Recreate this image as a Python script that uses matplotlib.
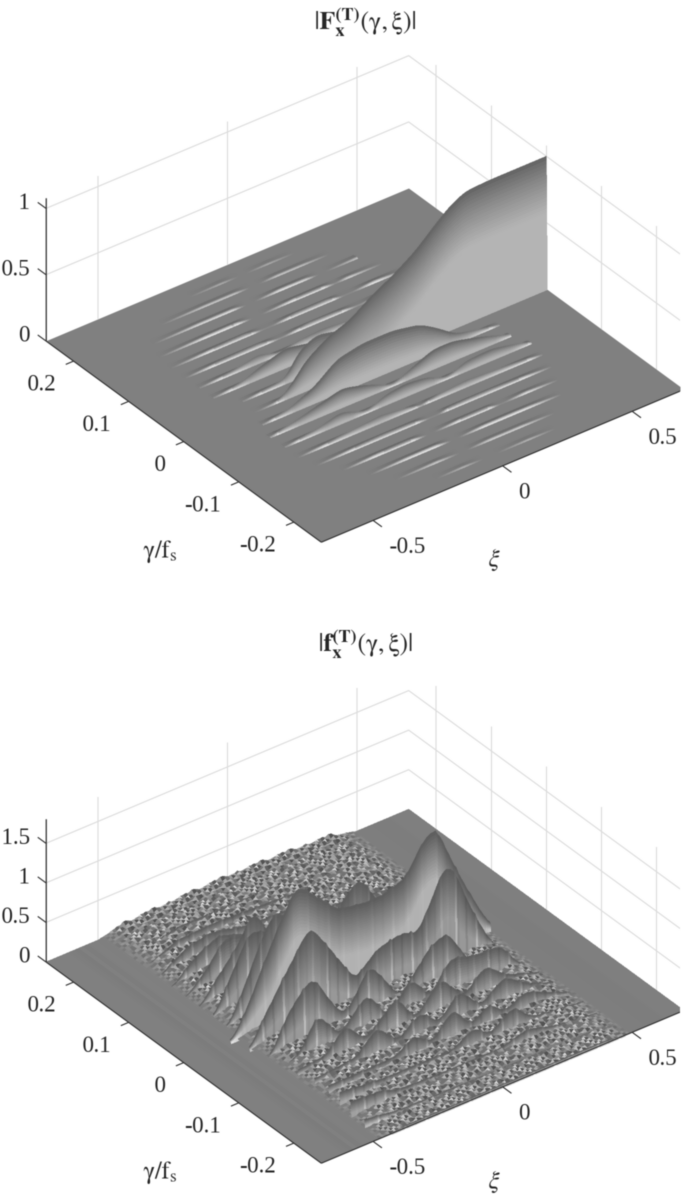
import numpy as np
import matplotlib
matplotlib.use("Agg")
import matplotlib.pyplot as plt
from mpl_toolkits.mplot3d import proj3d

plt.rcParams['font.family'] = ['Liberation Serif', 'DejaVu Serif']
plt.rcParams['mathtext.fontset'] = 'stix'

xi_lim = (-0.7, 0.7)
gamma_lim = (-0.25, 0.25)
xi_ticks = [-0.5, 0, 0.5]
xi_labels = ['-0.5', '0', '0.5']
gamma_ticks = [-0.2, -0.1, 0, 0.1, 0.2]
gamma_labels = ['-0.2', '-0.1', '0', '0.1', '0.2']
row_step = 0.025

# top surface, one xi/height pair per gamma row, row number = gamma / row_step
f_z_top = 1.08
f_z_ticks = [0, 0.5, 1]
f_z_labels = ['0', '0.5', '1']
f_p9_xi = [-.2, -.08, -.02, .02, .1, .2]
f_p9_h = [0, .005, 0, 0, .005, 0]
f_p8_xi = [-.36, -.2, -.08, -.03, .02, .08, .18, .28]
f_p8_h = [0, .008, .008, 0, 0, .008, .007, 0]
f_p7_xi = [-.44, -.28, -.14, -.1, -.05, .04, .14, .18, .22, .34]
f_p7_h = [0, .01, .011, 0, 0, .012, .01, 0, 0, .008]
f_p6_xi = [-.47, -.3, -.18, -.13, -.08, .05, .15, .2, .25, .38]
f_p6_h = [0, .012, .014, 0, 0, .014, .014, 0, .01, 0]
f_p5_xi = [-.48, -.32, -.2, -.14, -.09, 0, .12, .17, .22, .3, .42]
f_p5_h = [0, .014, .02, .001, .001, .018, .02, .001, .001, .014, 0]
f_p4_xi = [-.48, -.35, -.2, -.13, -.1, 0, .1, .17, .2, .3, .42, .47]
f_p4_h = [0, .016, .022, .002, .002, .022, .018, .002, .002, .016, .01, 0]
f_p3_xi = [-.48, -.35, -.25, -.169, -.1, 0, .1, .2, .3, .42, .47]
f_p3_h = [0, .02, .06, .004, .04, .05, .03, .02, .02, .012, 0]
f_p2_xi = [-.48, -.38, -.3, -.2, -.1, 0, .15, .3, .45]
f_p2_h = [0, .02, .08, .14, .1, .05, .02, .012, 0]
f_p1_xi = [-.42, -.256, -.198, -.132, -.044, .11, .3]
f_p1_h = [0, .03, .2, .26, .22, .12, 0]
f_0_xi = [-.483, -.414, -.329, -.278, -.228, -.143, -.058, .023, .108, .193, .278, .329, .387, .479, .7]
f_0_h = [0, .0, .01, .10, .22, .33, .39, .50, .59, .70, .85, .93, .99, 1.0, 1.0]
f_m1_xi = [-.45, -.351, -.247, -.162, -.061, .055, .159, .225, .295, .396, .462]
f_m1_h = [0, .03, .12, .25, .29, .29, .25, .17, .07, .025, 0]
f_m2_xi = [-.474, -.358, -.262, -.192, -.107, -.03, -.002, .028, .156, .234, .35, .454]
f_m2_h = [0, .05, .10, .135, .09, .03, .003, .03, .14, .14, .08, .01]
f_m3_xi = [-.47, -.35, -.25, -.152, -.08, 0, .08, .157, .23, .33, .45, .48]
f_m3_h = [0, .03, .08, .005, .07, .09, .07, .005, .07, .08, .03, 0]
f_m4_xi = [-.47, -.35, -.25, -.15, -.05, 0, .08, .18, .3, .42, .47]
f_m4_h = [0, .015, .035, .05, .025, .002, .03, .045, .03, .012, 0]
f_m5_xi = [-.45, -.3, -.2, -.08, -.03, .02, .06, .12, .22, .35, .45]
f_m5_h = [0, .014, .02, .016, .001, .001, .016, .02, .02, .012, 0]
f_m6_xi = [-.4, -.28, -.15, -.09, -.05, .05, .15, .19, .22, .3, .42]
f_m6_h = [0, .013, .016, 0, 0, .014, .016, .001, .001, .012, 0]
f_m7_xi = [-.35, -.22, -.1, -.05, -.01, .08, .2, .28, .38]
f_m7_h = [0, .011, .013, 0, 0, .012, .013, .01, 0]
f_m8_xi = [-.3, -.15, -.07, -.03, .05, .18, .3]
f_m8_h = [0, .009, 0, 0, .009, .009, 0]
f_m9_xi = [-.2, -.1, -.03, .03, .15, .25]
f_m9_h = [0, .006, 0, 0, .006, 0]

f_rows = [(9, f_p9_xi, f_p9_h), (8, f_p8_xi, f_p8_h), (7, f_p7_xi, f_p7_h), (6, f_p6_xi, f_p6_h),
          (5, f_p5_xi, f_p5_h), (4, f_p4_xi, f_p4_h), (3, f_p3_xi, f_p3_h), (2, f_p2_xi, f_p2_h),
          (1, f_p1_xi, f_p1_h), (0, f_0_xi, f_0_h), (-1, f_m1_xi, f_m1_h), (-2, f_m2_xi, f_m2_h),
          (-3, f_m3_xi, f_m3_h), (-4, f_m4_xi, f_m4_h), (-5, f_m5_xi, f_m5_h), (-6, f_m6_xi, f_m6_h),
          (-7, f_m7_xi, f_m7_h), (-8, f_m8_xi, f_m8_h), (-9, f_m9_xi, f_m9_h)]

# bottom surface, same layout
b_z_top = 1.81
b_z_ticks = [0, 0.5, 1, 1.5]
b_z_labels = ['0', '0.5', '1', '1.5']
b_p9_xi = [-.48, -.2, .45]
b_p9_h = [0, .12, .03]
b_p8_xi = [-.48, -.3, 0, .45]
b_p8_h = [0, .14, .14, .04]
b_p7_xi = [-.48, -.35, -.2, .1, .45]
b_p7_h = [0, .18, .2, .15, .04]
b_p6_xi = [-.48, -.38, -.28, -.15, .1, .45]
b_p6_h = [0, .22, .3, .2, .16, .05]
b_p5_xi = [-.48, -.4, -.3, -.2, 0, .2, .45]
b_p5_h = [0, .25, .42, .3, .2, .18, .05]
b_p4_xi = [-.48, -.4, -.33, -.25, -.15, 0, .2, .45]
b_p4_h = [0, .25, .55, .5, .22, .22, .18, .05]
b_p3_xi = [-.48, -.41, -.34, -.27, -.2, -.1, .02, .2, .45]
b_p3_h = [0, .3, .55, .95, .5, .25, .25, .2, .05]
b_p2_xi = [-.48, -.41, -.34, -.26, -.17, -.08, .02, .12, .25, .45]
b_p2_h = [0, .45, .9, .8, .4, .3, .3, .25, .2, .05]
b_p1_xi = [-.48, -.43, -.372, -.306, -.237, -.148, -.063, .034, .104, .169, .266, .45]
b_p1_h = [0, .3, .75, 1.2, 1.1, .5, .9, 1.2, .8, .25, .15, 0]
b_0_xi = [-.52, -.464, -.398, -.329, -.263, -.201, -.108, .008, .085, .162, .213, .271, .309, .329, .406, .483]
b_0_h = [0, .29, .77, 1.25, 1.63, 1.44, 1.12, 1.05, 1.07, 1.17, 1.48, 1.64, 1.35, 1.16, .6, .1]
b_m1_xi = [-.5, -.448, -.371, -.266, -.177, -.092, -.007, .094, .148, .198, .248, .283, .306, .36, .442]
b_m1_h = [0, .32, .72, 1.25, .8, .34, .6, .68, .58, .89, 1.27, 1.25, 1.06, .58, .03]
b_m2_xi = [-.474, -.397, -.308, -.215, -.176, -.087, .029, .145, .211, .288, .339, .45]
b_m2_h = [0, .5, .8, .25, .16, .65, .08, .55, .65, .2, .08, 0]
b_m3_xi = [-.48, -.412, -.342, -.257, -.149, -.075, .022, .091, .17, .273, .362, .438]
b_m3_h = [0, .1, .5, .12, .5, .1, .45, .12, .5, .4, .4, .05]
b_m4_xi = [-.47, -.36, -.29, -.21, -.09, -.02, .08, .17, .25, .33, .46]
b_m4_h = [.1, .14, .42, .12, .5, .12, .5, .15, .42, .2, .05]
b_m5_xi = [-.46, -.3, -.22, -.14, -.05, .02, .1, .18, .27, .36, .46]
b_m5_h = [.1, .15, .42, .14, .38, .15, .45, .14, .38, .18, .05]
b_m6_xi = [-.46, -.2, -.13, -.06, .02, .09, .16, .22, .3, .46]
b_m6_h = [.14, .15, .32, .14, .45, .15, .32, .14, .28, .05]
b_m7_xi = [-.47, -.3, -.1, -.04, .05, .11, .2, .27, .47]
b_m7_h = [.2, .14, .14, .12, .3, .13, .36, .13, .05]
b_m8_xi = [-.48, -.36, -.3, -.1, .1, .2, .3, .47]
b_m8_h = [.22, .2, .12, .1, .1, .2, .1, .03]
b_m9_xi = [-.48, -.42, -.36, .47]
b_m9_h = [.12, .1, .06, .02]
b_m10_xi = [-.43, -.38, .4, .47]
b_m10_h = [0, .03, .035, 0]

b_rows = [(9, b_p9_xi, b_p9_h), (8, b_p8_xi, b_p8_h), (7, b_p7_xi, b_p7_h), (6, b_p6_xi, b_p6_h),
          (5, b_p5_xi, b_p5_h), (4, b_p4_xi, b_p4_h), (3, b_p3_xi, b_p3_h), (2, b_p2_xi, b_p2_h),
          (1, b_p1_xi, b_p1_h), (0, b_0_xi, b_0_h), (-1, b_m1_xi, b_m1_h), (-2, b_m2_xi, b_m2_h),
          (-3, b_m3_xi, b_m3_h), (-4, b_m4_xi, b_m4_h), (-5, b_m5_xi, b_m5_h), (-6, b_m6_xi, b_m6_h),
          (-7, b_m7_xi, b_m7_h), (-8, b_m8_xi, b_m8_h), (-9, b_m9_xi, b_m9_h), (-10, b_m10_xi, b_m10_h)]

# raised rough plateau of the bottom surface
plateau_xi = [-.5, -.46, -.4, -.2, 0, .2, .4, .46, .5]
plateau_h = [0, .03, .08, .11, .13, .12, .09, .03, 0]
# one scale per band between rows, from the front edge to the back edge
plateau_scale = [.25, .6, .8, .9, 1, 1, 1, 1, 1, 1, 1, 1, 1, 1, 1, 1, 1, 1, 1, 1]
# floor shading left and right of the plateau
floor_xi = [-.7, -.64, -.61, -.59, -.575, -.56, -.54, -.5, .5, .56, .62, .7]
floor_grey = [128, 128, 126, 124, 129, 125, 128, 127, 126, 125, 127]

# hand typed grain, the picture's speckle cannot be read value by value
grain = ["718250936417265093842716", "295046173829501746380259", "961372804519367028415936",
         "482607319254806173952840", "157390482761593084261759", "830146297538041692758034",
         "694283170564293871056429", "016754298301765492830617", "375281640973582146093758",
         "924063718592046317589204", "581739260458173902648517", "260948531762049853172604",
         "793615402879136504287396", "148207956314820769531842", "536974120835697412805369",
         "807142653908714265390871", "319586027413958602473195", "672403819567423081956274",
         "054871392605841739206548", "481926570348916257043819", "926305784192630547819623",
         "150748926315704829361507", "763219048576321980457362", "398574106239857410623985",
         "604132987560413298756401", "275890431627589014362785", "849216305784921630578429",
         "012657498301265749830216", "567304821956703482195637", "938412057693481205769384",
         "241769530824176953082741"]
# light and dark streaks on the bottom walls
wall_stripes = [0, 0, 3, -2, 0, 0, 26, -8, 0, 0, 0, -14, 0, 2, 0, 0, 32, 0, -4, 0, 0, -10, 0, 18, 0, 0, 0, -6, 0, 0, 12]

step_xi = 0.008


def grey(c):
    c = np.clip(c, 0, 255) / 255.0
    return np.dstack([c, c, c, np.ones_like(c)])


def soften(y, n):
    # rounds the corners of the read polyline when it is tessellated for drawing
    kernel = np.ones(n) / n
    y2 = np.pad(y, n // 2, mode='edge')
    return np.convolve(y2, kernel, mode='valid')


def surf(ax, X, Y, Z, c, order):
    ax.plot_surface(X, Y, Z, facecolors=grey(c), shade=False, rstride=1, cstride=1,
                    linewidth=0, antialiased=False, zorder=order)


def wall(ax, row, xi, h, order, rough):
    gamma = row * row_step
    cols = np.union1d(np.arange(xi[0], xi[-1], step_xi), [xi[0], xi[-1]])
    top = np.interp(cols, xi, h)
    if max(h) > 0.05:
        top = soften(soften(top, 5), 5)
    else:
        top = soften(top, 3)
    if rough:
        top = top + np.take(wall_stripes, np.arange(len(cols)) % len(wall_stripes)) * 0.0008 * np.clip(top / .3, 0, 1)
    mid = 0.5 * (top[:-1] + top[1:])
    if not rough:
        # thin darker slope behind the crest
        X, Y = np.meshgrid(cols, [gamma + 0.006, gamma])
        Z = np.vstack([top * 0, top])
        c = 128 - 22 * np.clip(mid / 0.012, 0, 1)
        surf(ax, X, Y, Z, np.vstack([c, c]), order)
    n_front = 36 if max(h) > 0.6 else 14
    t = np.linspace(0, 1, n_front + 1)
    X, Y = np.meshgrid(cols, gamma - 0.002 * (1 - t))
    Z = np.outer(t, top)
    depth = np.outer(1 - 0.5 * (t[:-1] + t[1:]), mid)
    if rough:
        scale = np.minimum(0.6, 0.6 * mid) + 1e-6
        ratio = np.clip(depth / scale, 0, 1)
        light = 178 if row == 0 else 152
        light = light + 60 * np.clip(1 - mid / 0.25, 0, 1)
        c = 92 + (light - 92) * ratio
        idx = np.arange(len(mid)) % len(wall_stripes)
        amount = 0.2 if row == 0 else 1.0
        c = c + amount * np.take(wall_stripes, idx) * (0.4 + 0.8 * ratio)
    else:
        scale = np.minimum(0.42, 0.8 * mid) + 1e-6
        ratio = np.clip(depth / scale, 0, 1)
        dark = 128 - 30 * np.clip(mid / 0.1, 0, 1)
        light = 180 + 60 * np.clip(1 - mid / 0.05, 0, 1)
        light = 128 + (light - 128) * np.clip(mid / 0.012, 0, 1)
        c = dark + (light - dark) * ratio ** 0.8
    surf(ax, X, Y, Z, c, order + 0.1)


def plateau(ax, band, order):
    n = 6
    g0 = band - 10
    cols = np.arange(-0.49, 0.4901, 0.011)
    rows = (g0 + np.linspace(0, 1, n + 1)) * row_step
    tile = np.array([[int(d) for d in r] for r in grain], dtype=float)
    rr = (band * n + np.arange(n + 2))[:, None] % tile.shape[0]
    cc = (np.arange(len(cols) + 1)[None, :] + 5 * band) % tile.shape[1]
    g = tile[rr, cc]
    env = np.clip((np.minimum(cols + 0.49, 0.49 - cols)) / 0.08, 0, 1)
    level = np.interp(cols, plateau_xi, plateau_h) * plateau_scale[band]
    Z = level + (g[:-1, :-1] - 4.5) * 0.004 * env
    c = 128 + 12 * env[:-1] + (6 * (g[:-2, :-2] - g[1:-1, :-2]) + 5 * (g[:-2, :-2] - g[:-2, 1:-1])) * env[:-1]
    c = np.clip(c, 82, 228)
    X, Y = np.meshgrid(cols, rows)
    surf(ax, X, Y, Z, c, order)


def panel(corners, z_top, z_ticks, z_labels, rows, rough, title, title_y, ylab_xy, xlab_xy):
    W, H = fig.get_size_inches() * fig.dpi
    ax = fig.add_axes([0.1, 0.1, 0.5, 0.5 * W / H], projection='3d', computed_zorder=False, proj_type='ortho')
    ax.set_xlim(*xi_lim)
    ax.set_ylim(*gamma_lim)
    ax.set_zlim(0, z_top)
    ax.set_box_aspect((1, 1, 0.378))
    ax.view_init(elev=33.7, azim=-127.2)
    ax.set_axis_off()

    # move the square axes so the floor corners land where the reference has them
    M = ax.get_proj()
    px, py, _ = proj3d.proj_transform(np.array([xi_lim[0], xi_lim[0]]), np.array([gamma_lim[1], gamma_lim[0]]),
                                      np.array([0.0, 0.0]), M)
    px2, py2, _ = proj3d.proj_transform(np.array([xi_lim[1]]), np.array([gamma_lim[0]]), np.array([0.0]), M)
    L, B, R = corners
    ax.apply_aspect()
    p0 = ax.transData.transform([(px[0], py[0]), (px2[0], py2[0])])
    side = ax.get_position().width * W * (R[0] - L[0]) / (p0[1, 0] - p0[0, 0])
    ax.set_position([0.1, 0.1, side / W, side / H])
    ax.apply_aspect()
    p1 = ax.transData.transform([(px[0], py[0])])[0]
    pos = ax.get_position()
    ax.set_position([pos.x0 + (L[0] - p1[0]) / W, pos.y0 + ((H - L[1]) - p1[1]) / H, pos.width, pos.height])

    def line(xs, ys, zs, color, lw, order):
        ax.plot(xs, ys, zs, color=color, lw=lw, zorder=order, solid_capstyle='butt')

    def label(x, y, z, s, dx, dy, ha):
        a, b, _ = proj3d.proj_transform(np.array([x]), np.array([y]), np.array([z]), M)
        ax.annotate(s, xy=(a[0], b[0]), xycoords='data', xytext=(dx * 0.72, dy * 0.72), textcoords='offset points',
                    ha=ha, va='center', fontsize=16.5, color='#262626', annotation_clip=False, zorder=5000)

    # back walls
    grid_c = '#dcdcdc'
    for z in z_ticks[1:]:
        line([xi_lim[0], xi_lim[1], xi_lim[1]], [gamma_lim[1], gamma_lim[1], gamma_lim[0]], [z, z, z], grid_c, 0.8, 0.5)
    for x in xi_ticks:
        line([x, x], [gamma_lim[1], gamma_lim[1]], [0, z_top], grid_c, 0.8, 0.5)
    for y in gamma_ticks:
        line([xi_lim[1], xi_lim[1]], [y, y], [0, z_top], grid_c, 0.8, 0.5)

    # floor
    if rough:
        cols = np.array(floor_xi)
        c = np.array([floor_grey, floor_grey], dtype=float)
    else:
        cols = np.array(xi_lim)
        c = np.array([[128.0], [128.0]])
    X, Y = np.meshgrid(cols, gamma_lim)
    surf(ax, X, Y, X * 0, c, 1)

    # back to front, the painter order of a height field seen from here
    lookup = {r[0]: r for r in rows}
    order = 2
    for k in range(9, -11, -1):
        if rough:
            plateau(ax, k + 10, order)
            order += 1
        if k in lookup:
            wall(ax, k, lookup[k][1], lookup[k][2], order, rough)
            order += 1

    # axes
    ax_c = '#303030'
    line([xi_lim[0], xi_lim[0]], [gamma_lim[1], gamma_lim[1]], [0, z_top], ax_c, 0.9, 4000)
    line([xi_lim[0], xi_lim[0]], [gamma_lim[1], gamma_lim[0]], [0, 0], ax_c, 0.8, 4000)
    line([xi_lim[0], xi_lim[1]], [gamma_lim[0], gamma_lim[0]], [0, 0], ax_c, 0.8, 4000)
    for z, s in zip(z_ticks, z_labels):
        line([xi_lim[0], xi_lim[0]], [gamma_lim[1], gamma_lim[1] + 0.015], [z, z], ax_c, 0.8, 4000)
        label(xi_lim[0], gamma_lim[1], z, s, -16, 5, 'right')
    for y, s in zip(gamma_ticks, gamma_labels):
        line([xi_lim[0], xi_lim[0] - 0.03], [y, y], [0, 0], ax_c, 0.8, 4000)
        label(xi_lim[0], y, 0, s, -18, -24, 'right')
    for x, s in zip(xi_ticks, xi_labels):
        line([x, x], [gamma_lim[0], gamma_lim[0] - 0.016], [0, 0], ax_c, 0.8, 4000)
        label(x, gamma_lim[0], 0, s, 16, -27, 'left')

    fig.text(365 / W, 1 - title_y / H, title, ha='center', va='center', fontsize=18.5, color='#262626')
    fig.text(ylab_xy[0] / W, 1 - ylab_xy[1] / H, r'$\mathrm{\gamma}/\mathrm{f}_{\mathrm{s}}$', ha='center', va='center',
             fontsize=17.5, color='#262626')
    fig.text(xlab_xy[0] / W, 1 - xlab_xy[1] / H, r'$\xi$', ha='center', va='center', fontsize=18, color='#262626')
    return ax


fig = plt.figure(figsize=(6.85, 11.96), dpi=100, facecolor='white')

panel([(46, 341), (322, 543), (684, 391)], f_z_top, f_z_ticks, f_z_labels, f_rows, False,
      r'$|\mathbf{F}_{\mathbf{x}}^{\mathbf{(T)}}(\mathrm{\gamma},\mathrm{\xi})|$', 22, (160, 552), (494, 560))
panel([(46, 962), (322, 1164), (684, 1012)], b_z_top, b_z_ticks, b_z_labels, b_rows, True,
      r'$|\mathbf{f}_{\mathbf{x}}^{\mathbf{(T)}}(\mathrm{\gamma},\mathrm{\xi})|$', 644, (160, 1173), (494, 1182))

# draw at twice the size and scale down, the surfaces have no antialiasing of their own
fig.savefig('out.png', dpi=200)
img = plt.imread('out.png')[:, :, :3]
for axis in (0, 1):
    for _ in range(2):
        img = (np.roll(img, 1, axis) + 2 * img + np.roll(img, -1, axis)) / 4
img = (img[::2, ::2] + img[1::2, ::2] + img[::2, 1::2] + img[1::2, 1::2]) / 4
plt.imsave('out.png', np.clip(img, 0, 1))
